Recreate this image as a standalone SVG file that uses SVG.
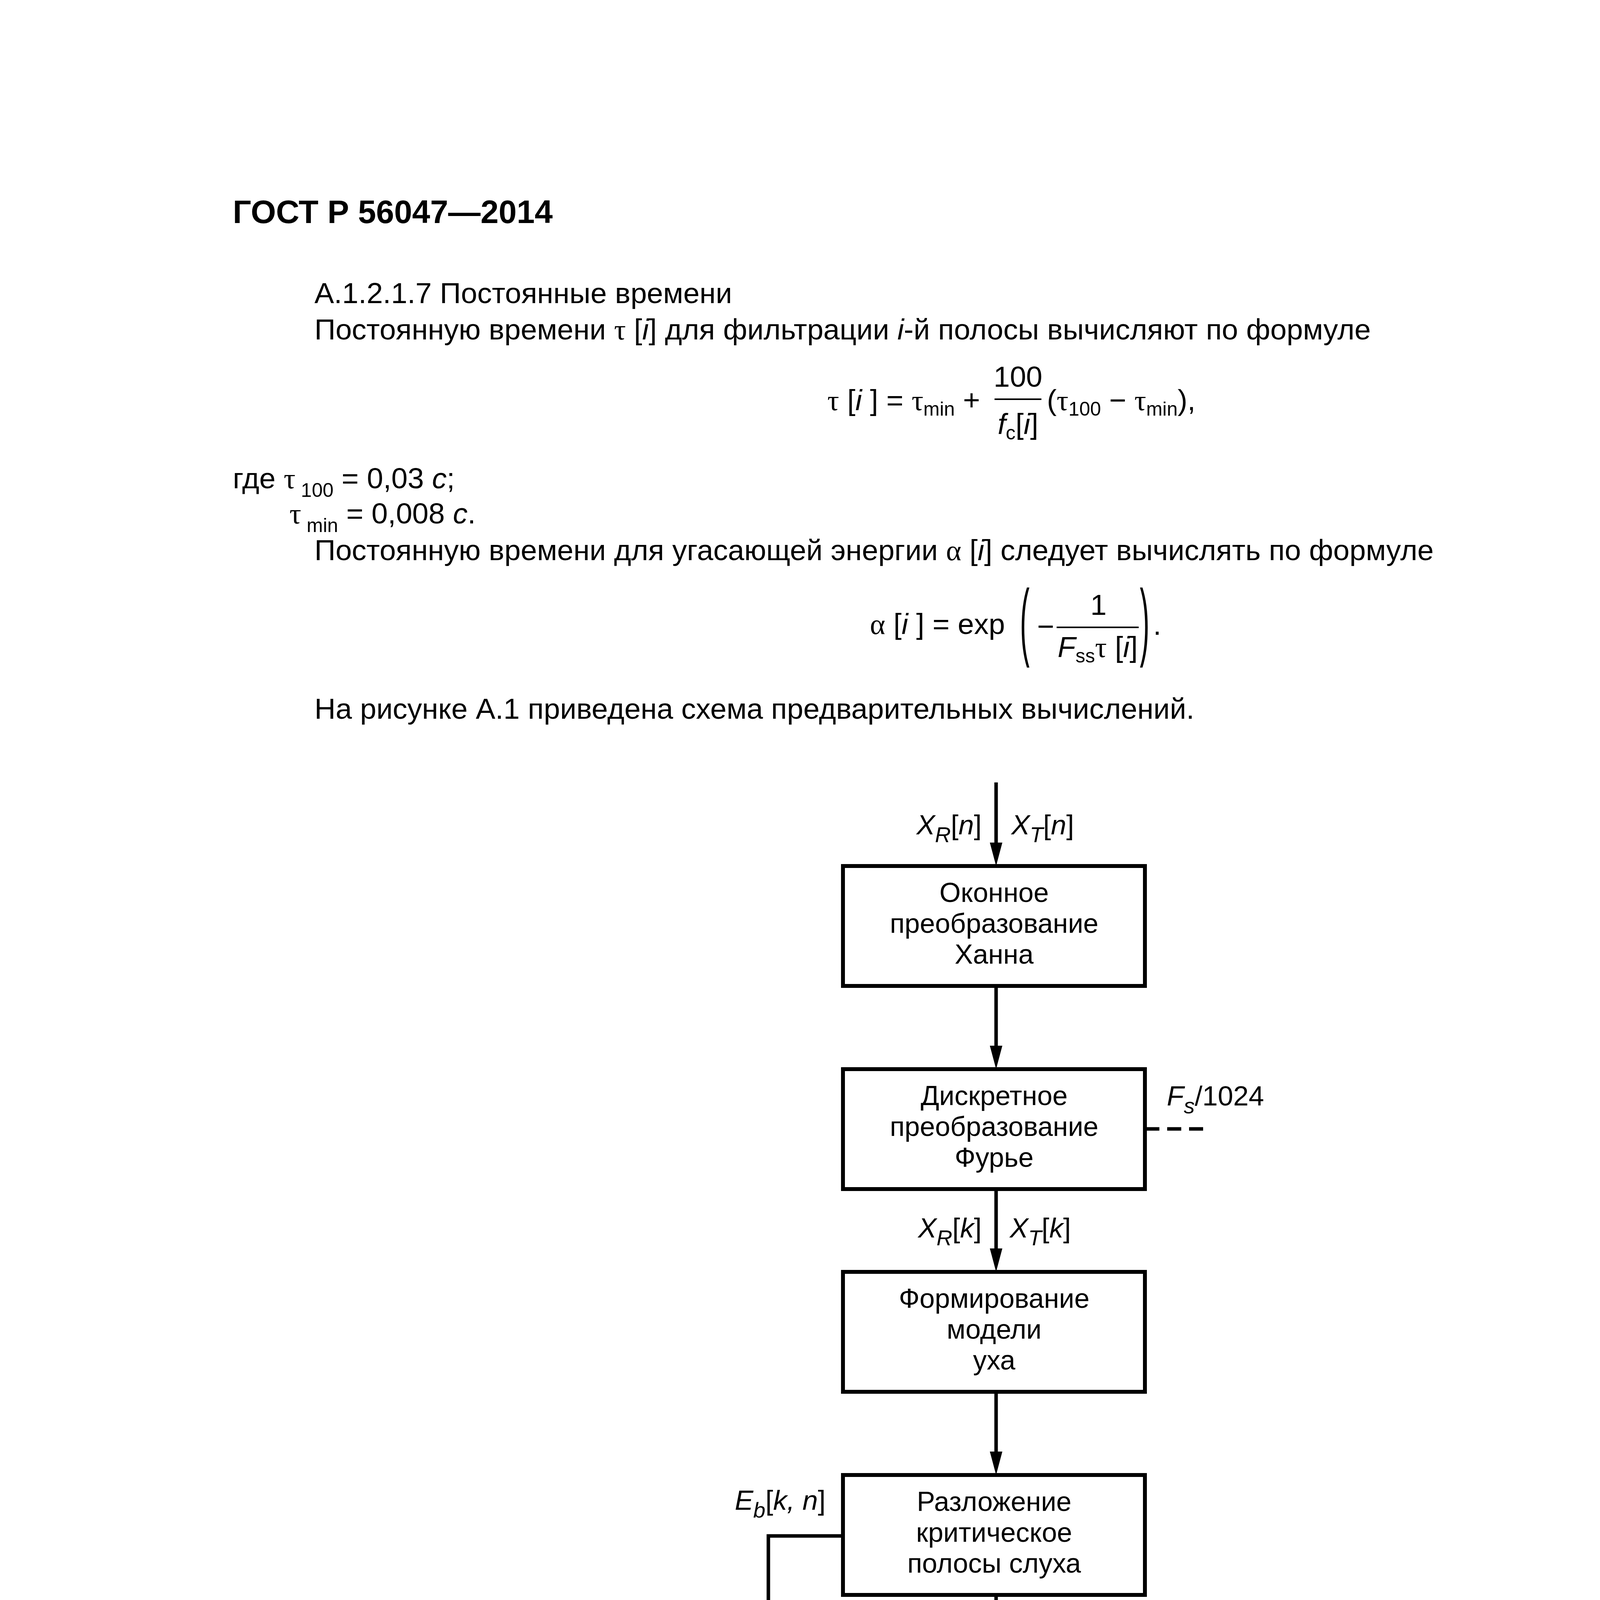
<svg xmlns="http://www.w3.org/2000/svg" width="4960" height="7017" viewBox="0 0 4960 7017">
<style>
text{font-family:"Liberation Sans",Arial,sans-serif;fill:#000}
.t{font-size:75px}
.h{font-size:83px;font-weight:bold}
.bx{font-size:70px;text-anchor:middle}
.lbl{font-size:71px;font-style:italic}
.sub{font-size:56px}
.ms{font-size:50px}
.up{font-style:normal}
.it{font-style:italic}
.gr{font-family:"Liberation Serif","Times New Roman",serif}
.box{fill:#fff;stroke:#000;stroke-width:10}
.ln{fill:none;stroke:#000;stroke-width:9}
.dash{fill:none;stroke:#000;stroke-width:9;stroke-dasharray:36 20}
.bar{stroke:#000;stroke-width:4}
</style>
<defs>
<marker id="ah" markerUnits="userSpaceOnUse" markerWidth="62" markerHeight="34" refX="20" refY="17" orient="auto">
<path d="M0,1 L60,17 L0,33 z" fill="#000"/>
</marker>
</defs>

<!-- page text -->
<text class="h" x="596" y="571">ГОСТ Р 56047—2014</text>
<text class="t" x="805" y="776">А.1.2.1.7  Постоянные времени</text>
<text class="t" x="805" y="869">Постоянную времени  <tspan class="gr">τ</tspan> [<tspan class="it">i</tspan>] для фильтрации <tspan class="it">i</tspan>-й полосы вычисляют по формуле</text>

<!-- formula A.30 -->
<text class="t" x="2118" y="1050"><tspan class="gr">τ</tspan> [<tspan class="it">i</tspan> ] = <tspan class="gr">τ</tspan><tspan class="ms" dy="14">min</tspan><tspan dy="-14"> +</tspan></text>
<text class="t" x="2606" y="990" text-anchor="middle">100</text>
<line class="bar" x1="2546" y1="1022" x2="2666" y2="1022"/>
<text class="t" x="2606" y="1111" text-anchor="middle"><tspan class="it">f</tspan><tspan class="ms" dy="14">c</tspan><tspan dy="-14">[</tspan><tspan class="it">i</tspan>]</text>
<text class="t" x="2680" y="1050">(<tspan class="gr">τ</tspan><tspan class="ms" dy="14">100</tspan><tspan dy="-14"> − </tspan><tspan class="gr">τ</tspan><tspan class="ms" dy="14">min</tspan><tspan dy="-14">),</tspan></text>
<text class="t" x="4605" y="1046" text-anchor="end">(А.30)</text>

<text class="t" x="596" y="1250">где  <tspan class="gr">τ</tspan><tspan class="ms" dy="22"> 100</tspan><tspan dy="-22"> = 0,03 </tspan><tspan class="it">с</tspan>;</text>
<text class="t" x="741" y="1340"><tspan class="gr">τ</tspan><tspan class="ms" dy="22"> min</tspan><tspan dy="-22"> = 0,008 </tspan><tspan class="it">с</tspan>.</text>
<text class="t" x="805" y="1434">Постоянную времени для угасающей энергии <tspan class="gr">α</tspan> [<tspan class="it">i</tspan>] следует вычислять по формуле</text>

<!-- formula A.31 -->
<text class="t" x="2227" y="1623"><tspan class="gr">α</tspan> [<tspan class="it">i</tspan> ] = exp</text>
<text class="t" transform="translate(2611,1663) scale(1,2.95)" style="font-size:74px">(</text>
<text class="t" x="2655" y="1629">−</text>
<text class="t" x="2812" y="1574" text-anchor="middle">1</text>
<line class="bar" x1="2705" y1="1606" x2="2915" y2="1606"/>
<text class="t" x="2810" y="1682" text-anchor="middle"><tspan class="it">F</tspan><tspan class="ms" dy="14">ss</tspan><tspan class="gr" dy="-14">τ</tspan> [<tspan class="it">i</tspan>]</text>
<text class="t" transform="translate(2918,1663) scale(1,2.95)" style="font-size:74px">)</text>
<text class="t" x="2952" y="1625">.</text>
<text class="t" x="4605" y="1585" text-anchor="end">(А.31)</text>

<text class="t" x="805" y="1840">На рисунке А.1 приведена схема предварительных вычислений.</text>

<!-- connectors -->
<g id="connectors">
<line class="ln" x1="2550" y1="2003" x2="2550" y2="2177" marker-end="url(#ah)"/>
<line class="ln" x1="2550" y1="2524" x2="2550" y2="2697" marker-end="url(#ah)"/>
<line class="ln" x1="2550" y1="3043" x2="2550" y2="3216" marker-end="url(#ah)"/>
<line class="ln" x1="2550" y1="3563" x2="2550" y2="3736" marker-end="url(#ah)"/>
<line class="ln" x1="2550" y1="4083" x2="2550" y2="4255" marker-end="url(#ah)"/>
<line class="ln" x1="2550" y1="4602" x2="2550" y2="4775" marker-end="url(#ah)"/>
<line class="ln" x1="2550" y1="5122" x2="2550" y2="5295" marker-end="url(#ah)"/>
<line class="dash" x1="2932" y1="2890" x2="3084" y2="2890"/>
<polyline class="ln" points="2158,3932 1967,3932 1967,5841" marker-end="url(#ah)"/>
<polyline class="ln" points="2931,4968 3287,4968 3287,5841" marker-end="url(#ah)"/>
<polyline class="ln" points="2931,5483 3119,5483 3119,5841" marker-end="url(#ah)"/>
</g>

<!-- connector labels -->
<g id="labels">
<text class="lbl" x="2513" y="2136" text-anchor="end">X<tspan class="sub" dy="20">R</tspan><tspan class="up" dy="-20">[</tspan>n<tspan class="up">]</tspan></text>
<text class="lbl" x="2589" y="2136">X<tspan class="sub" dy="20">T</tspan><tspan class="up" dy="-20">[</tspan>n<tspan class="up">]</tspan></text>
<text class="lbl" x="2987" y="2830">F<tspan class="sub" dy="20">s</tspan><tspan class="up" dy="-20">/1024</tspan></text>
<text class="lbl" x="2513" y="3168" text-anchor="end">X<tspan class="sub" dy="20">R</tspan><tspan class="up" dy="-20">[</tspan>k<tspan class="up">]</tspan></text>
<text class="lbl" x="2585" y="3168">X<tspan class="sub" dy="20">T</tspan><tspan class="up" dy="-20">[</tspan>k<tspan class="up">]</tspan></text>
<text class="lbl" x="1881" y="3865">E<tspan class="sub" dy="20">b</tspan><tspan class="up" dy="-20">[</tspan>k, n<tspan class="up">]</tspan></text>
<text class="lbl" x="2986" y="4907">E<tspan class="sub" dy="20">sR</tspan><tspan class="up" dy="-20">[</tspan>k, n<tspan class="up">]</tspan></text>
<text class="lbl" x="2980" y="5060">E<tspan class="sub" dy="20">sT</tspan><tspan class="up" dy="-20">[</tspan>k, n<tspan class="up">]</tspan></text>
<text class="lbl" x="2251" y="5245">E<tspan class="sub" dy="20">sR</tspan><tspan class="up" dy="-20">[</tspan>k, n<tspan class="up">]</tspan></text>
<text class="lbl" x="2595" y="5245">E<tspan class="sub" dy="20">sT</tspan><tspan class="up" dy="-20">[</tspan>k, n<tspan class="up">]</tspan></text>
<text class="lbl" x="2804" y="5762">Ẽ<tspan class="sub" dy="20">sT</tspan><tspan class="up" dy="-20">[</tspan>k, n<tspan class="up">]</tspan></text>
<text class="lbl" x="2811" y="5900">Ẽ<tspan class="sub" dy="20">sR</tspan><tspan class="up" dy="-20">[</tspan>k, n<tspan class="up">]</tspan></text>
</g>

<!-- nodes -->
<g id="n1"><rect class="box" x="2158" y="2217" width="773" height="307"/>
<text class="bx" x="2545" y="2309">Оконное</text><text class="bx" x="2545" y="2388">преобразование</text><text class="bx" x="2545" y="2467">Ханна</text></g>
<g id="n2"><rect class="box" x="2158" y="2737" width="773" height="307"/>
<text class="bx" x="2545" y="2829">Дискретное</text><text class="bx" x="2545" y="2908">преобразование</text><text class="bx" x="2545" y="2987">Фурье</text></g>
<g id="n3"><rect class="box" x="2158" y="3256" width="773" height="307"/>
<text class="bx" x="2545" y="3348">Формирование</text><text class="bx" x="2545" y="3427">модели</text><text class="bx" x="2545" y="3506">уха</text></g>
<g id="n4"><rect class="box" x="2158" y="3776" width="773" height="307"/>
<text class="bx" x="2545" y="3868">Разложение</text><text class="bx" x="2545" y="3947">критическое</text><text class="bx" x="2545" y="4026">полосы слуха</text></g>
<g id="n5"><rect class="box" x="2158" y="4295" width="773" height="307"/>
<text class="bx" x="2545" y="4387">Вычисление</text><text class="bx" x="2545" y="4466">внутреннего</text><text class="bx" x="2545" y="4545">шума</text></g>
<g id="n6"><rect class="box" x="2158" y="4815" width="773" height="307"/>
<text class="bx" x="2545" y="4907">Вычисление</text><text class="bx" x="2545" y="4986">энергии</text><text class="bx" x="2545" y="5065">распространения</text></g>
<g id="n7"><rect class="box" x="2158" y="5335" width="773" height="307"/>
<text class="bx" x="2545" y="5465">Фильтрация</text><text class="bx" x="2545" y="5545">энергии</text></g>

<text class="t" x="2595" y="6105" text-anchor="middle" style="font-size:76px">Рисунок А.1 — Схема предварительных вычислений</text>
<text class="t" x="594" y="6442">12</text>
</svg>
